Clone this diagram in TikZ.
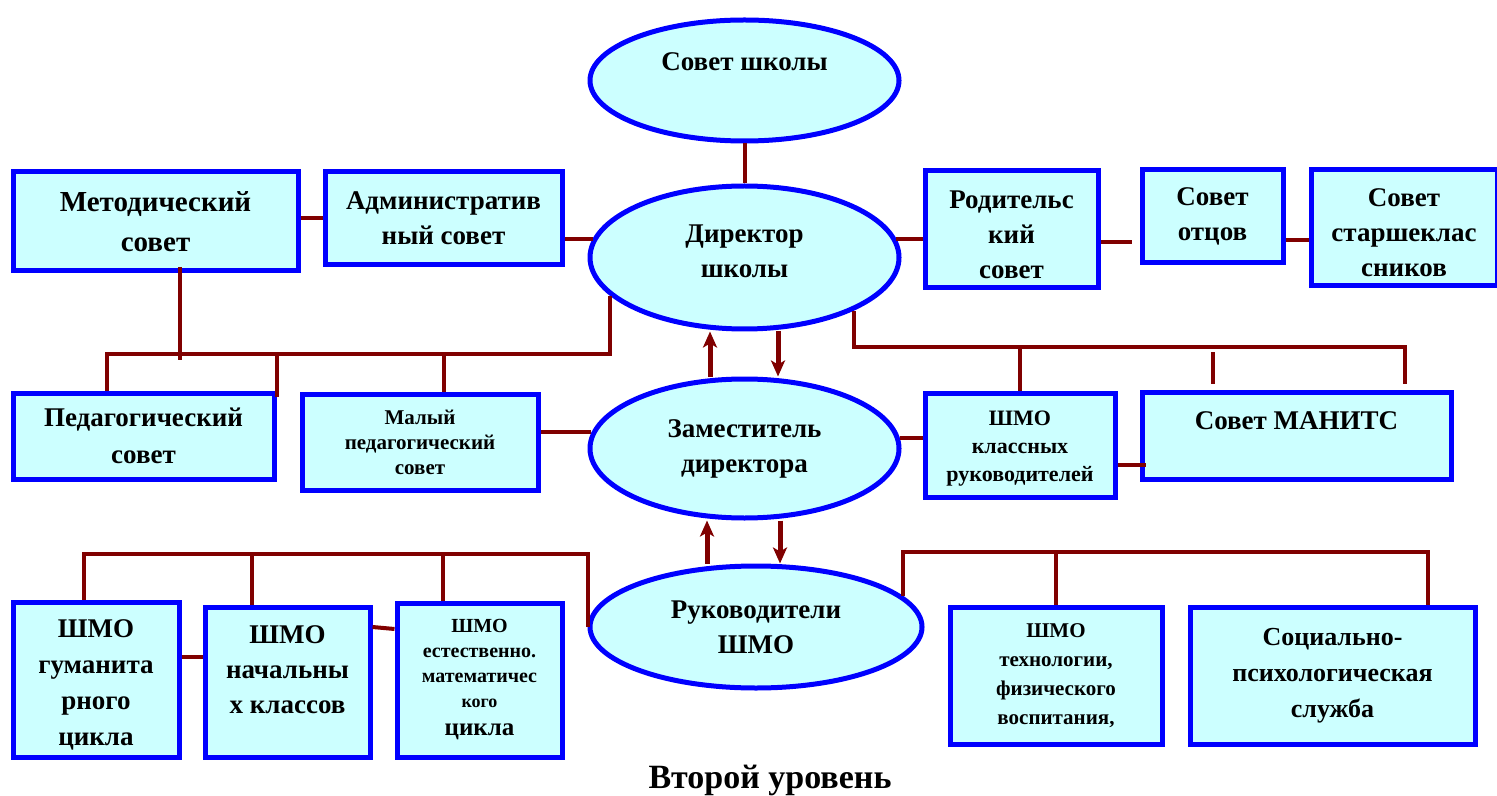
\documentclass[tikz,border=0pt]{standalone}
\usepackage{fontspec}
\setmainfont{Liberation Serif}
\usepackage{xcolor}
\usetikzlibrary{shapes.geometric, arrows.meta, positioning}
\definecolor{boxfill}{HTML}{CCFFFF}
\definecolor{boxline}{HTML}{0000FF}
\definecolor{linkred}{HTML}{800000}

\begin{document}
\begin{tikzpicture}[x=0.5pt, y=-0.5pt,
  unitbox/.style={rectangle, draw=boxline, fill=boxfill, line width=2.5pt, align=center, inner sep=0pt,
    font=\bfseries\fontsize{13.5}{17.5}\selectfont},
  unitoval/.style={ellipse, draw=boxline, fill=boxfill, line width=2.5pt, align=center, inner sep=0pt,
    font=\bfseries\fontsize{13.5}{17.5}\selectfont},
  bigtext/.style={font=\bfseries\fontsize{13.5}{17.5}\selectfont, align=center},
  smalltext/.style={font=\bfseries\fontsize{11}{14}\selectfont},
  link/.style={draw=linkred, line width=2pt},
  flow/.style={draw=linkred, line width=2.5pt, -{Stealth[length=8pt, width=7pt, inset=2pt]}}]
\useasboundingbox (0,0) rectangle (1497,796);

\node[unitoval, minimum width=154.5pt, minimum height=60.5pt] (sovet) at (744.5,80.5) {};
\node[bigtext] (sovettext) at ([yshift=9.5pt]sovet.center) {Совет школы};
\node[unitoval, minimum width=154.5pt, minimum height=71.5pt] (direktor) at (744.5,257.5) {Директор\\школы\rule[-6.5pt]{0pt}{0pt}};
\node[unitoval, minimum width=154.5pt, minimum height=69.5pt] (zam) at (744.5,448.5) {Заместитель\\директора};
\node[unitoval, minimum width=166pt, minimum height=61pt] (ruk) at (756,627) {Руководители\\ШМО};

\node[unitbox, minimum width=142.5pt, minimum height=49.5pt, font=\bfseries\fontsize{14.5}{20}\selectfont] (metod) at (155.5,221.5) {Методический\\совет};
\node[unitbox, minimum width=118.5pt, minimum height=46.5pt] (admin) at (443.5,218.5) {Административ\\ный совет};
\node[unitbox, minimum width=86.5pt, minimum height=58.5pt] (rodit) at (1011.5,229.5) {\rule{0pt}{14pt}Родительс\\кий\\совет};
\node[unitbox, minimum width=70.5pt, minimum height=46.5pt] (otcy) at (1212.5,216.5) {Совет\\отцов};
\node[unitbox, minimum width=93pt, minimum height=58pt] (starsh) at (1404,228) {\rule{0pt}{14pt}Совет\\старшеклас\\сников};

\node[unitbox, minimum width=130.5pt, minimum height=43pt, font=\bfseries\fontsize{13.5}{18.5}\selectfont] (pedsov) at (143.5,436) {Педагогический\\совет};
\node[unitbox, smalltext, minimum width=118pt, minimum height=48pt, font=\bfseries\fontsize{10.5}{12.5}\selectfont] (malpv) at (420,442) {Малый\\педагогический\\совет};
\node[unitbox, smalltext, minimum width=95pt, minimum height=52pt] (shmokl) at (1020,445) {\rule{0pt}{11.3pt}ШМО\\классных\\руководителей};
\node[unitbox, minimum width=154.5pt, minimum height=43.5pt] (manits) at (1296.5,435.5) {};
\node[bigtext] (manitstext) at ([yshift=7.25pt]manits.center) {Совет МАНИТС};

\node[unitbox, minimum width=83pt, minimum height=77.5pt, font=\bfseries\fontsize{13.5}{18}\selectfont] (shmogum) at (96,679.5) {\rule{0pt}{14.5pt}ШМО\\гуманита\\рного\\цикла};
\node[unitbox, minimum width=82.5pt, minimum height=75pt] (shmonach) at (287.5,682) {};
\node[bigtext] (shmonachtext) at ([yshift=6pt]shmonach.center) {ШМО\\начальны\\х классов};
\node[unitbox, minimum width=82.5pt, minimum height=77pt, font=\bfseries\fontsize{10}{12.5}\selectfont] (shmoest) at (479.5,680)
  {ШМО\\естественно.\\математичес\\{\fontsize{9}{11}\selectfont кого}\\[1.5pt]{\fontsize{12.5}{15}\selectfont цикла}};
\node[unitbox, minimum width=106pt, minimum height=68.5pt, font=\bfseries\fontsize{10.5}{14.5}\selectfont] (shmoteh) at (1056,675.5) {ШМО\\технологии,\\физического\\воспитания,};
\node[unitbox, minimum width=142.5pt, minimum height=68.5pt, font=\bfseries\fontsize{13}{18}\selectfont] (social) at (1332.5,675.5) {Социально-\\психологическая\\служба};

\node[font=\bfseries\fontsize{17}{20}\selectfont] (title) at (770,780) {Второй уровень};

\coordinate (lbus) at (107,354);
\coordinate (rbus) at (1405,347);
\coordinate (llbus) at (84,554);
\coordinate (rrbus) at (1428,552);

\draw[link] (sovet) -- (direktor);
\draw[link] (admin.west) -- (admin.west -| metod.east);
\draw[link] (direktor.173) -- (direktor.173 -| admin.east);
\draw[link] (direktor.7) -- (direktor.7 -| rodit.west);
\draw[link] ([yshift=-6.25pt]rodit.east) -- ([yshift=-6.25pt,xshift=-4pt]rodit.east -| otcy.west);
\draw[link] ([yshift=-11.75pt]otcy.east) -- ([yshift=-11.75pt]otcy.east -| starsh.west);

\draw[link] ([xshift=12.25pt,yshift=3pt]metod.south) -- ([xshift=12.25pt]metod.south |- lbus) -- ++(0,6);
\draw[link] (direktor.196) |- (lbus) -- (lbus |- pedsov.north);
\draw[link] (pedsov.north east |- lbus) -- ([yshift=-3pt]pedsov.north east);
\draw[link] ([xshift=12pt]malpv.north |- lbus) -- ([xshift=12pt]malpv.north);

\draw[link] (direktor.-26) |- (rbus) -- ([yshift=3pt]rbus |- manits.north);
\draw[link] (shmokl.north |- rbus) -- (shmokl.north);
\draw[link] ([xshift=-41.75pt,yshift=3pt]manits.north) -- ++(0,-32);

\draw[link] (zam.174) -- (zam.174 -| malpv.east);
\draw[link] (zam.4) -- (zam.4 -| shmokl.west);
\draw[link] ([yshift=-10pt]shmokl.east) -- ([yshift=-10pt,xshift=3pt]shmokl.east -| manits.west);

\draw[flow] ([xshift=-17.25pt]zam.north) -- ([xshift=-17.25pt]direktor.south);
\draw[flow] ([xshift=16.75pt]direktor.south) -- ([xshift=16.75pt]zam.north);
\draw[flow] ([xshift=-18.75pt]zam.south |- ruk.north) -- ([xshift=-18.75pt]zam.south);
\draw[flow] ([xshift=17.75pt]zam.south) -- ([xshift=17.75pt]zam.south |- ruk.north);

\draw[link] (ruk.west) |- (llbus) -- (llbus |- shmogum.north);
\draw[link] ([xshift=-17.75pt]shmonach.north |- llbus) -- ([xshift=-17.75pt]shmonach.north);
\draw[link] ([xshift=-18.25pt]shmoest.north |- llbus) -- ([xshift=-18.25pt]shmoest.north);
\draw[link] (ruk.12) |- (rrbus) -- (rrbus |- social.north);
\draw[link] (shmoteh.north |- rrbus) -- (shmoteh.north);
\draw[link] ([yshift=11.25pt]shmogum.east) -- ([yshift=11.25pt]shmogum.east -| shmonach.west);
\draw[link] ([yshift=27.5pt]shmonach.east) -- ([yshift=25.5pt]shmoest.west);
\end{tikzpicture}
\end{document}
